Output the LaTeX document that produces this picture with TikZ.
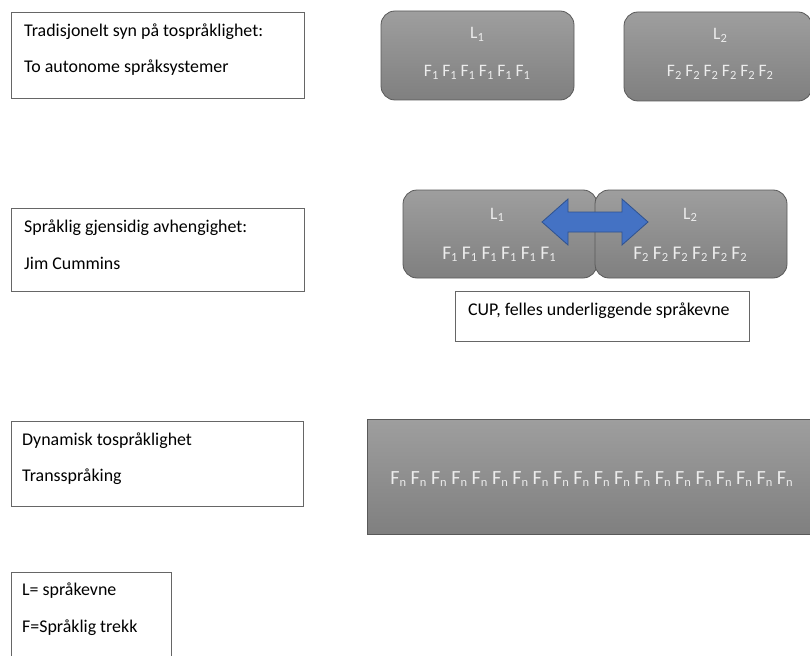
\documentclass[tikz,border=0pt]{standalone}
\usepackage{fontspec}
\setmainfont{Carlito}
\definecolor{arrfill}{RGB}{68,114,196}
\definecolor{arrline}{RGB}{47,82,143}
\definecolor{wtext}{RGB}{236,236,236}
\newcommand{\lsub}[1]{\raisebox{-0.28ex}{\fontsize{12.5}{12.5}\selectfont #1}}
\begin{document}
\begin{tikzpicture}[x=1pt,y=-1pt,
  tbox/.style={draw=black!60, line width=0.8pt, fill=white, inner sep=0pt},
  txt/.style={anchor=base west, inner sep=0pt, font=\fontsize{17.9}{20}\selectfont, text=black},
  gbox/.style={draw=black!65, line width=0.8pt, top color=black!38, bottom color=black!50, inner sep=0pt},
  wtxt/.style={anchor=base, inner sep=0pt, font=\fontsize{17.5}{20}\selectfont, text=wtext},
  arr/.style={fill=arrfill, draw=arrline, line width=0.8pt}
]
\useasboundingbox (0,0) rectangle (810,655);
% left text boxes
\node[tbox, minimum width=293, minimum height=86] (t1) at (157.5,55) {};
\node[txt] (t1a) at (24,37) {Tradisjonelt syn på tospråklighet:};
\node[txt] (t1b) at (24,73) {To autonome språksystemer};
\node[tbox, minimum width=293, minimum height=83] (t2) at (157.5,249.5) {};
\node[txt] (t2a) at (24,232) {Språklig gjensidig avhengighet:};
\node[txt] (t2b) at (24,269) {Jim Cummins};
\node[tbox, minimum width=292, minimum height=85] (t3) at (157,463.5) {};
\node[txt] (t3a) at (22,445) {Dynamisk tospråklighet};
\node[txt] (t3b) at (22,481) {Transspråking};
\node[tbox, minimum width=160, minimum height=100] (t4) at (91,622) {};
\node[txt] (t4a) at (22,595) {L= språkevne};
\node[txt] (t4b) at (22,632) {F=Språklig trekk};
% top rounded boxes
\node[gbox, rounded corners=14pt, minimum width=193, minimum height=89] (a1) at (477.5,55.5) {};
\node[wtxt] (a1l) at (477,39) {L\lsub{1}};
\node[wtxt] (a1f) at (477,77) {F\lsub{1} F\lsub{1} F\lsub{1} F\lsub{1} F\lsub{1} F\lsub{1}};
\node[gbox, rounded corners=14pt, minimum width=188, minimum height=89] (a2) at (718,56.5) {};
\node[wtxt] (a2l) at (720,40) {L\lsub{2}};
\node[wtxt] (a2f) at (720,77) {F\lsub{2} F\lsub{2} F\lsub{2} F\lsub{2} F\lsub{2} F\lsub{2}};
% middle rounded boxes
\node[gbox, rounded corners=14pt, minimum width=194, minimum height=88] (b1) at (500,234) {};
\node[gbox, rounded corners=14pt, minimum width=192, minimum height=88] (b2) at (691,234) {};
\node[wtxt] (b1l) at (497,219) {L\lsub{1}};
\node[wtxt, font=\fontsize{19.4}{20}\selectfont] (b1f) at (499,259) {F\lsub{1} F\lsub{1} F\lsub{1} F\lsub{1} F\lsub{1} F\lsub{1}};
\node[wtxt] (b2l) at (690,219) {L\lsub{2}};
\node[wtxt, font=\fontsize{19.4}{20}\selectfont] (b2f) at (690,259) {F\lsub{2} F\lsub{2} F\lsub{2} F\lsub{2} F\lsub{2} F\lsub{2}};
% double arrow
\coordinate (ltip) at (542,222);
\coordinate (rtip) at (648,222);
\draw[arr] (ltip) -- (568,199) -- (568,212) -- (622,212) -- (622,199) -- (rtip)
  -- (622,245) -- (622,232) -- (568,232) -- (568,245) -- cycle;
% CUP box
\node[tbox, minimum width=294, minimum height=50] (cup) at (602,316) {};
\node[txt] (cupt) at (468,315) {CUP, felles underliggende språkevne};
% Fn box
\node[gbox, minimum width=444, minimum height=115] (fn) at (589,476.5) {};
\node[wtxt, font=\fontsize{20.1}{20}\selectfont] (fnt) at (591.5,484) {F\lsub{n} F\lsub{n} F\lsub{n} F\lsub{n} F\lsub{n} F\lsub{n} F\lsub{n} F\lsub{n} F\lsub{n} F\lsub{n} F\lsub{n} F\lsub{n} F\lsub{n} F\lsub{n} F\lsub{n} F\lsub{n} F\lsub{n} F\lsub{n} F\lsub{n} F\lsub{n}};
\end{tikzpicture}
\end{document}
